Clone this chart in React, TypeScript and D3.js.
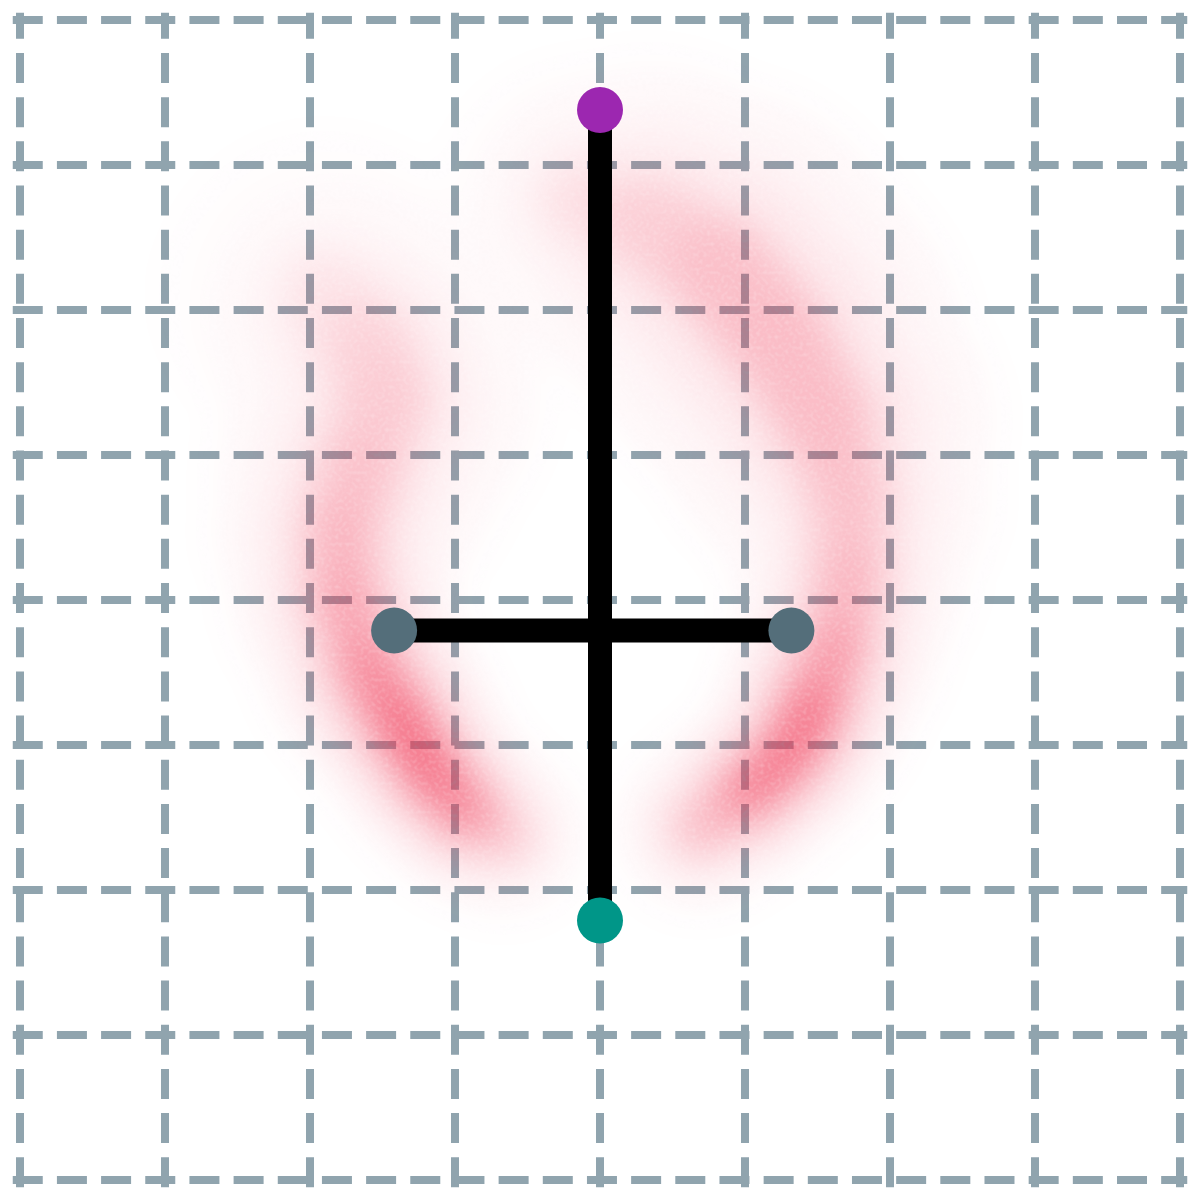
import * as d3 from "d3";

// grid ticks, one unit apart
const gridTicks = [-4, -3, -2, -1, 0, 1, 2, 3, 4];

// spine of the two density arcs: x, y in data units, spread = band width, v = relative density
const leftArc = [
  { x: -1.9, y: 2.1, spread: 0.8, v: 0.09 },
  { x: -1.6, y: 1.75, spread: 0.85, v: 0.22 },
  { x: -1.48, y: 1.38, spread: 0.8, v: 0.29 },
  { x: -1.66, y: 0.9, spread: 0.7, v: 0.31 },
  { x: -1.79, y: 0.48, spread: 0.6, v: 0.4 },
  { x: -1.76, y: 0.0, spread: 0.55, v: 0.46 },
  { x: -1.59, y: -0.48, spread: 0.5, v: 0.6 },
  { x: -1.38, y: -0.83, spread: 0.45, v: 0.8 },
  { x: -1.17, y: -1.17, spread: 0.42, v: 0.92 },
  { x: -0.93, y: -1.45, spread: 0.42, v: 0.55 },
  { x: -0.66, y: -1.62, spread: 0.42, v: 0.18 },
];

const rightArc = [
  { x: -0.14, y: 2.76, spread: 0.6, v: 0.14 },
  { x: 0.34, y: 2.59, spread: 0.8, v: 0.24 },
  { x: 0.83, y: 2.28, spread: 0.95, v: 0.32 },
  { x: 1.24, y: 1.79, spread: 0.95, v: 0.41 },
  { x: 1.55, y: 1.24, spread: 0.8, v: 0.36 },
  { x: 1.72, y: 0.69, spread: 0.65, v: 0.34 },
  { x: 1.72, y: 0.14, spread: 0.55, v: 0.38 },
  { x: 1.62, y: -0.34, spread: 0.5, v: 0.5 },
  { x: 1.46, y: -0.76, spread: 0.45, v: 0.7 },
  { x: 1.31, y: -1.05, spread: 0.42, v: 0.95 },
  { x: 1.03, y: -1.32, spread: 0.42, v: 0.62 },
  { x: 0.69, y: -1.57, spread: 0.42, v: 0.26 },
];

// the cross and its end points
const crossTop = { x: 0, y: 3.38 };
const crossBottom = { x: 0, y: -2.21 };
const crossLeft = { x: -1.42, y: -0.21 };
const crossRight = { x: 1.32, y: -0.21 };

export default function App() {
  const width = 1200;
  const height = 1200;
  const x = d3.scaleLinear().domain([-4, 4]).range([20, 1180]);
  const y = d3.scaleLinear().domain([-4, 4]).range([1180, 20]);
  const unit = x(1) - x(0);
  const ext = 4.05;
  const gray = (v: number) => {
    const c = Math.round(Math.max(0, Math.min(1, v)) * 255);
    return `rgb(${c},${c},${c})`;
  };

  const segments = (arc: typeof leftArc, widthScale: number, vScale: number, prefix: string) =>
    arc.slice(1).map((p, i) => {
      const q = arc[i];
      return (
        <line
          key={`${prefix}-${i}`}
          x1={x(q.x)}
          y1={y(q.y)}
          x2={x(p.x)}
          y2={y(p.y)}
          stroke={gray(((p.v + q.v) / 2) * vScale)}
          strokeWidth={((p.spread + q.spread) / 2) * unit * widthScale}
          strokeLinecap="round"
          style={{ mixBlendMode: "lighten" }}
        />
      );
    });

  return (
    <svg width={width} height={height} style={{ position: "absolute", left: 0, top: 0, background: "white" }}>
      <defs>
        <filter id="cloud" x="0" y="0" width={width} height={height} filterUnits="userSpaceOnUse" colorInterpolationFilters="sRGB">
          <feGaussianBlur in="SourceGraphic" stdDeviation="20" result="b" />
          <feColorMatrix in="b" type="matrix" values="0 0 0 0 0.94  0 0 0 0 0.19  0 0 0 0 0.31  0.84 0 0 0 0" result="c" />
          <feTurbulence type="fractalNoise" baseFrequency="0.28" numOctaves="1" seed="7" result="n" />
          <feColorMatrix in="n" type="matrix" values="0 0 0 0 0  0 0 0 0 0  0 0 0 0 0  0.5 0 0 0 0.72" result="na" />
          <feComposite in="c" in2="na" operator="in" />
        </filter>
      </defs>

      <g stroke="#90a4ae" strokeWidth={8} strokeDasharray="30 14.17">
        {gridTicks.map((t) => (
          <line key={`v${t}`} x1={x(t)} x2={x(t)} y1={y(-ext)} y2={y(ext)} />
        ))}
        {gridTicks.map((t) => (
          <line key={`h${t}`} x1={x(-ext)} x2={x(ext)} y1={y(t)} y2={y(t)} />
        ))}
      </g>

      <g filter="url(#cloud)" style={{ isolation: "isolate" }}>
        <rect width={width} height={height} fill="black" />
        {segments(leftArc, 2.6, 0.13, "lh")}
        {segments(rightArc, 2.6, 0.13, "rh")}
        {segments(leftArc, 1.6, 0.33, "lm")}
        {segments(rightArc, 1.6, 0.33, "rm")}
        {segments(leftArc, 0.75, 1, "lc")}
        {segments(rightArc, 0.75, 1, "rc")}
      </g>

      <g stroke="black" strokeWidth={24}>
        <line x1={x(crossTop.x)} y1={y(crossTop.y)} x2={x(crossBottom.x)} y2={y(crossBottom.y)} />
        <line x1={x(crossLeft.x)} y1={y(crossLeft.y)} x2={x(crossRight.x)} y2={y(crossRight.y)} />
      </g>

      <circle cx={x(crossTop.x)} cy={y(crossTop.y)} r={23} fill="#9c27b0" />
      <circle cx={x(crossLeft.x)} cy={y(crossLeft.y)} r={23} fill="#546e7a" />
      <circle cx={x(crossRight.x)} cy={y(crossRight.y)} r={23} fill="#546e7a" />
      <circle cx={x(crossBottom.x)} cy={y(crossBottom.y)} r={23} fill="#009688" />
    </svg>
  );
}
